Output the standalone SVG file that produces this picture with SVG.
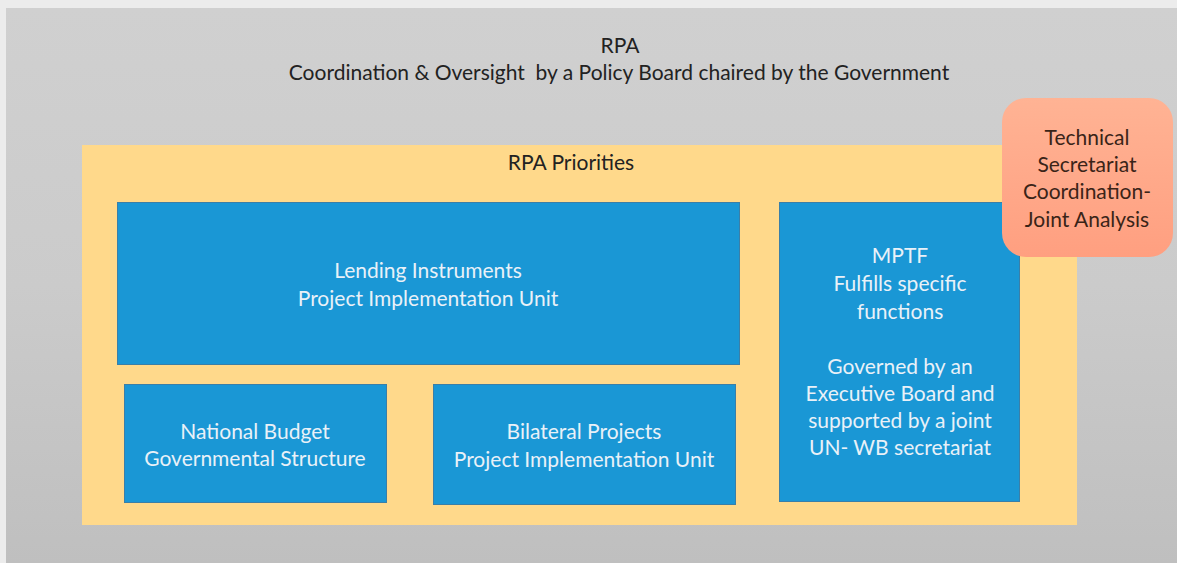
<svg xmlns="http://www.w3.org/2000/svg" width="1177" height="563" viewBox="0 0 1177 563">
  <defs>
    <linearGradient id="bg" x1="0" y1="0" x2="0" y2="1">
      <stop offset="0" stop-color="#d0d0d0"/>
      <stop offset="0.5" stop-color="#cbcbcb"/>
      <stop offset="1" stop-color="#bfbfbf"/>
    </linearGradient>
    <linearGradient id="salmon" x1="0" y1="0" x2="0" y2="1">
      <stop offset="0" stop-color="#ffb394"/>
      <stop offset="1" stop-color="#ff9f80"/>
    </linearGradient>
    <style>
      .blue { fill: #1a97d5; stroke: #3a7fa8; stroke-width: 1; }
      .wt { font-family: Lato, "Liberation Sans", sans-serif; font-size: 21px; fill: #e9f1f8; text-anchor: middle; }
      .dk { font-family: Lato, "Liberation Sans", sans-serif; font-size: 21px; fill: #222222; text-anchor: middle; }
      .br { font-family: Lato, "Liberation Sans", sans-serif; font-size: 21px; fill: #3a2418; text-anchor: middle; }
    </style>
  </defs>
  <rect x="0" y="0" width="1177" height="563" fill="#ececec"/>
  <rect x="6" y="8" width="1171" height="555" fill="url(#bg)"/>

  <g id="rpa-title">
    <text class="dk" x="620" y="53">RPA</text>
    <text class="dk" x="619" y="80" xml:space="preserve">Coordination &amp; Oversight  by a Policy Board chaired by the Government</text>
  </g>

  <g id="rpa-priorities">
    <rect x="82" y="145" width="995" height="380" fill="#ffd98b"/>
    <text class="dk" x="571" y="170">RPA Priorities</text>
  </g>

  <g id="lending">
    <rect class="blue" x="117.5" y="202.5" width="622" height="162"/>
    <text class="wt" x="428" y="278">Lending Instruments</text>
    <text class="wt" x="428" y="306">Project Implementation Unit</text>
  </g>

  <g id="national-budget">
    <rect class="blue" x="124.5" y="384.5" width="262" height="118"/>
    <text class="wt" x="255" y="439">National Budget</text>
    <text class="wt" x="255" y="466">Governmental Structure</text>
  </g>

  <g id="bilateral">
    <rect class="blue" x="433.5" y="384.5" width="302" height="120"/>
    <text class="wt" x="584" y="439">Bilateral Projects</text>
    <text class="wt" x="584" y="467">Project Implementation Unit</text>
  </g>

  <g id="mptf">
    <rect class="blue" x="779.5" y="202.5" width="240" height="299"/>
    <text class="wt" x="900" y="263">MPTF</text>
    <text class="wt" x="900" y="291">Fulfills specific</text>
    <text class="wt" x="900" y="319">functions</text>
    <text class="wt" x="900" y="374">Governed by an</text>
    <text class="wt" x="900" y="401">Executive Board and</text>
    <text class="wt" x="900" y="428">supported by a joint</text>
    <text class="wt" x="900" y="455">UN- WB secretariat</text>
  </g>

  <g id="technical-secretariat">
    <rect x="1002" y="98" width="171" height="159" rx="24" ry="24" fill="url(#salmon)"/>
    <text class="br" x="1087" y="145">Technical</text>
    <text class="br" x="1087" y="172">Secretariat</text>
    <text class="br" x="1087" y="199">Coordination-</text>
    <text class="br" x="1087" y="227">Joint Analysis</text>
  </g>

  <g id="connectors"/>
</svg>
